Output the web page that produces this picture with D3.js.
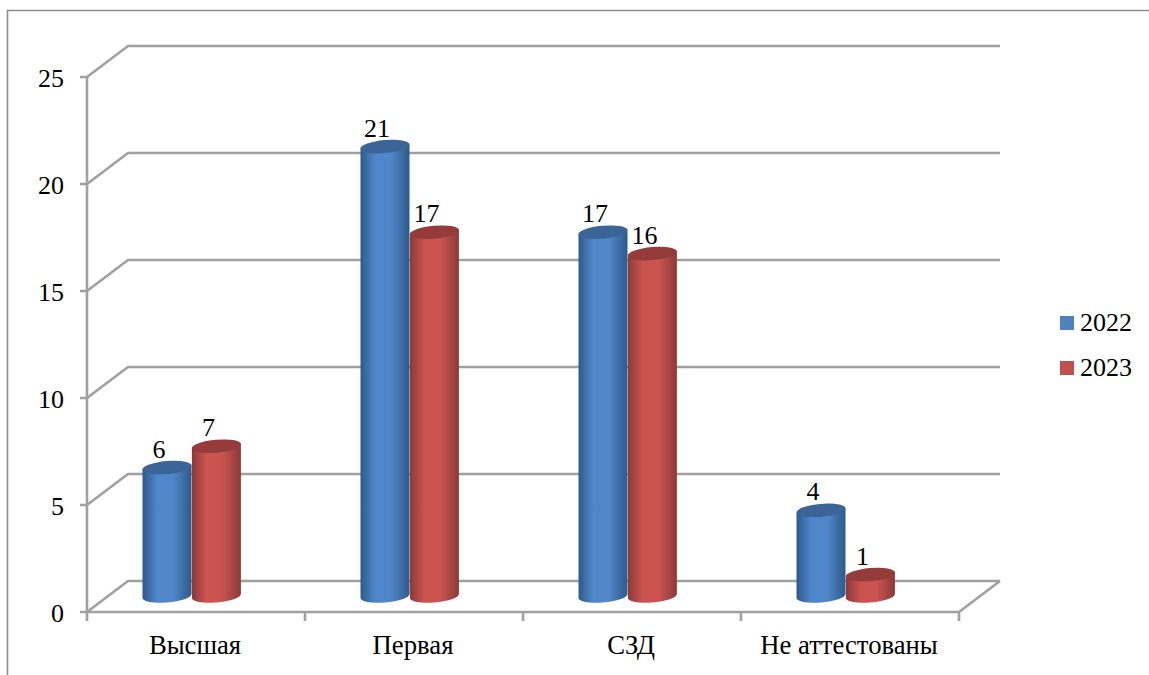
<!DOCTYPE html>
<html><head><meta charset="utf-8">
<style>html,body{margin:0;padding:0;background:#fff}svg{display:block}text{font-family:"Liberation Serif",serif;fill:#000}</style>
<script src="https://cdn.jsdelivr.net/npm/d3@7/dist/d3.min.js"></script>
</head><body><svg id="c" width="1149" height="675"></svg>
<script>
const categories = ["Высшая","Первая","СЗД","Не аттестованы"];
const seriesNames = ["2022","2023"];
const values2022 = [6,21,17,4];
const values2023 = [7,17,16,1];
const yTicks = [0,5,10,15,20,25];
const seriesColors = ["#4f81bd","#c0504d"];
const bodyColors = ["#5087ca","#cb5451"];
const edgeColors = ["#2f5a8a","#8a3a38"];
const topColors = ["#3a6596","#953b39"];

const W=1149,H=675, FS=26;
const depthX=41, depthY=-31;
const svg=d3.select("#c");
const x=d3.scaleBand().domain(categories).range([87,959]);
const y=d3.scaleLinear().domain([0,25]).range([612,77]);
const grid="#a0a0a0";

// frame
svg.append("path").attr("d",`M7.5,${H}V10.5H${W}`).attr("fill","none").attr("stroke","#8c8c8c").attr("stroke-width",1.6);

// gradients
const defs=svg.append("defs");
seriesNames.forEach((s,i)=>{
  const g=defs.append("linearGradient").attr("id","g"+i).attr("x1","0").attr("x2","1").attr("y1","0").attr("y2","0");
  [[0,edgeColors[i]],[0.3,bodyColors[i]],[0.62,bodyColors[i]],[1,edgeColors[i]]].forEach(([o,c])=>g.append("stop").attr("offset",o).attr("stop-color",c));
});

// gridlines, back wall & side wall
const gl=svg.append("g").attr("fill","none").attr("stroke",grid).attr("stroke-width",2.6);
gl.selectAll("path.g").data(yTicks).join("path").attr("class","g")
  .attr("d",t=>`M80,${y(t)}H87L${87+depthX},${y(t)+depthY}H${959+depthX}`);
gl.append("path").attr("d",`M87,${y(25)}V${y(0)}H959L${959+depthX},${y(0)+depthY}`);
gl.selectAll("path.t").data(d3.range(5)).join("path").attr("class","t")
  .attr("d",i=>`M${87+i*x.step()},${y(0)}v9`);

// y labels
svg.append("g").selectAll("text").data(yTicks).join("text")
  .attr("x",64).attr("y",t=>y(t)+10).attr("text-anchor","end").attr("font-size",FS).text(t=>t);
// x labels
svg.append("g").selectAll("text").data(categories).join("text")
  .attr("x",c=>x(c)+x.bandwidth()/2-1).attr("y",654).attr("text-anchor","middle").attr("font-size",26.7).text(c=>c);

// cylinders
const barW=49, rx=24.5, ry=6.5, tilt=2, baseShift=-16;
const xs=d3.scaleBand().domain(seriesNames).range([-53.5,44.5]);
const yBar=v=>y(v)+baseShift;
[values2022,values2023].forEach((vals,i)=>{
  const g=svg.append("g");
  categories.forEach((c,k)=>{
    const l=x(c)+x.bandwidth()/2+xs(seriesNames[i])+(i?0.4:0), r=l+barW, top=yBar(vals[k]), bot=yBar(0);
    g.append("path").attr("d",`M${l},${top+tilt}L${l},${bot+tilt}A${rx},${ry} -5 0 0 ${r},${bot-tilt}L${r},${top-tilt}Z`)
     .attr("fill",`url(#g${i})`);
    g.append("ellipse").attr("cx",(l+r)/2).attr("cy",top).attr("rx",rx+0.2).attr("ry",ry)
     .attr("transform",`rotate(-5 ${(l+r)/2} ${top})`).attr("fill",topColors[i]);
    svg.append("text").attr("x",(l+r)/2-8).attr("y",top-10).attr("text-anchor","middle").attr("font-size",FS).text(vals[k]);
  });
});

// legend
const ly=d3.scalePoint().domain(seriesNames).range([323,368]);
seriesNames.forEach((s,i)=>{
  svg.append("rect").attr("x",1060).attr("y",ly(s)-7).attr("width",14).attr("height",14).attr("fill",seriesColors[i]);
  svg.append("text").attr("x",1080).attr("y",ly(s)+8).attr("font-size",FS).text(s);
});
</script></body></html>
